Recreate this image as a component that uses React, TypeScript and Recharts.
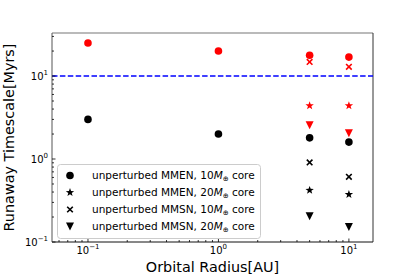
import React from "react";
import {
  ScatterChart,
  Scatter,
  XAxis,
  YAxis,
  ReferenceLine,
} from "recharts";

const radii = [0.1, 1, 5, 10];

// unperturbed (black)
const mmen10 = [3.0, 2.0, 1.8, 1.6];
const mmen20 = [null, null, 0.42, 0.375];
const mmsn10 = [null, null, 0.91, 0.61];
const mmsn20 = [null, null, 0.205, 0.152];

// perturbed (red)
const pMmen10 = [25, 20, 17.8, 16.9];
const pMmen20 = [null, null, 4.4, 4.4];
const pMmsn10 = [null, null, 14.8, 12.9];
const pMmsn20 = [null, null, 2.55, 2.05];

const xMajor = [0.1, 1, 10];
const xMinor = [0.06, 0.07, 0.08, 0.09, 0.2, 0.3, 0.4, 0.5, 0.6, 0.7, 0.8, 0.9, 2, 3, 4, 5, 6, 7, 8, 9];
const yMajor = [0.1, 1, 10];
const yMinor = [0.2, 0.3, 0.4, 0.5, 0.6, 0.7, 0.8, 0.9, 2, 3, 4, 5, 6, 7, 8, 9, 20, 30];
const expLabel: Record<number, string> = { 0.1: "\u22121", 1: "0", 10: "1" };

const X_DOMAIN: [number, number] = [0.053, 15.3];
const Y_DOMAIN: [number, number] = [0.1, 33];

const legendItems = [
  { shape: "circle", text: "unperturbed MMEN, 10" },
  { shape: "star", text: "unperturbed MMEN, 20" },
  { shape: "cross", text: "unperturbed MMSN, 10" },
  { shape: "tri", text: "unperturbed MMSN, 20" },
];

const toPoints = (vals: (number | null)[]) =>
  radii
    .map((r, i) => ({ x: r, y: vals[i] }))
    .filter((p) => p.y !== null);

function Marker({ kind, cx, cy, color }: { kind: string; cx: number; cy: number; color: string }) {
  if (kind === "circle") return <circle cx={cx} cy={cy} r={3.8} fill={color} />;
  if (kind === "cross") {
    const d = 2.8;
    return (
      <g stroke={color} strokeWidth={1.6}>
        <line x1={cx - d} y1={cy - d} x2={cx + d} y2={cy + d} />
        <line x1={cx - d} y1={cy + d} x2={cx + d} y2={cy - d} />
      </g>
    );
  }
  if (kind === "tri") {
    const s = 4;
    return <polygon points={`${cx - s},${cy - s} ${cx + s},${cy - s} ${cx},${cy + s}`} fill={color} />;
  }
  // star
  const pts: string[] = [];
  for (let i = 0; i < 10; i++) {
    const r = i % 2 === 0 ? 4.4 : 1.8;
    const a = -Math.PI / 2 + (i * Math.PI) / 5;
    pts.push(`${cx + r * Math.cos(a)},${cy + r * Math.sin(a)}`);
  }
  return <polygon points={pts.join(" ")} fill={color} />;
}

const shapeFor = (kind: string, color: string) => (props: any) =>
  <Marker kind={kind} cx={props.cx} cy={props.cy} color={color} />;

function Exp({ v }: { v: number }) {
  return (
    <>
      <tspan>10</tspan>
      <tspan dy={-4.5} fontSize={7}>{expLabel[v]}</tspan>
    </>
  );
}

function XTick(props: any) {
  const { x, y, payload } = props;
  const major = xMajor.includes(payload.value);
  return (
    <g>
      <line x1={x} x2={x} y1={y} y2={y - (major ? 3.5 : 2)} stroke="#000" strokeWidth={0.8} />
      {major && (
        <text x={x} y={y + 11.5} textAnchor="middle" fontSize={10} fill="#000">
          <Exp v={payload.value} />
        </text>
      )}
    </g>
  );
}

function YTick(props: any) {
  const { x, y, payload } = props;
  const major = yMajor.includes(payload.value);
  return (
    <g>
      <line x1={x} x2={x + (major ? 3.5 : 2)} y1={y} y2={y} stroke="#000" strokeWidth={0.8} />
      {major && (
        <text x={x - 4} y={y + 3.5} textAnchor="end" fontSize={10} fill="#000">
          <Exp v={payload.value} />
        </text>
      )}
    </g>
  );
}

function LegendBox() {
  return (
    <svg width={204} height={75} style={{ display: "block" }}>
      <rect x={0.5} y={0.5} width={203} height={74} rx={3} fill="#fff" fillOpacity={0.8} stroke="#ccc" />
      {legendItems.map((it, i) => {
        const cy = 11.5 + i * 17;
        return (
          <g key={i}>
            <Marker kind={it.shape} cx={13} cy={cy} color="#000" />
            <text x={35} y={cy + 3.8} fontSize={10.5} fill="#000">
              {it.text}
              <tspan fontStyle="italic">M</tspan>
              <tspan fontSize={7} dy={2}>{"\u2295"}</tspan>
              <tspan dy={-2}> core</tspan>
            </text>
          </g>
        );
      })}
    </svg>
  );
}

export default function App() {
  return (
    <div
      style={{
        position: "absolute",
        left: 0,
        top: 0,
        width: 415,
        height: 277,
        background: "#fff",
        fontFamily: "'DejaVu Sans', sans-serif",
      }}
    >
      <ScatterChart width={415} height={277} margin={{ top: 33, right: 42, bottom: 5, left: 12 }}>
        <XAxis
          type="number"
          dataKey="x"
          scale="log"
          domain={X_DOMAIN}
          allowDataOverflow
          ticks={[...xMinor, ...xMajor].sort((a, b) => a - b)}
          interval={0}
          tick={<XTick />}
          tickLine={false}
          tickSize={0}
          tickMargin={0}
          height={30}
          axisLine={{ stroke: "#111", strokeWidth: 1 }}
          label={{
            content: () => (
              <text x={212.5} y={271.5} textAnchor="middle" fontSize={14.4} fill="#000">
                Orbital Radius[AU]
              </text>
            ),
          }}
        />
        <YAxis
          type="number"
          dataKey="y"
          scale="log"
          domain={Y_DOMAIN}
          allowDataOverflow
          ticks={[...yMinor, ...yMajor].sort((a, b) => a - b)}
          interval={0}
          tick={<YTick />}
          tickLine={false}
          tickSize={0}
          tickMargin={0}
          width={40}
          axisLine={{ stroke: "#555", strokeWidth: 1 }}
          label={{
            content: () => (
              <text
                x={14}
                y={137.5}
                textAnchor="middle"
                fontSize={14.4}
                fill="#000"
                transform="rotate(-90 14 137.5)"
              >
                Runaway Timescale[Myrs]
              </text>
            ),
          }}
        />
        <ReferenceLine y={Y_DOMAIN[1]} stroke="#777" strokeWidth={1.2} />
        <ReferenceLine x={X_DOMAIN[1]} stroke="#333" strokeWidth={1} />
        <ReferenceLine y={10} stroke="#0000ff" strokeWidth={1.5} strokeDasharray="5.5 2.4" />

        <Scatter data={toPoints(mmen10)} shape={shapeFor("circle", "#000")} isAnimationActive={false} />
        <Scatter data={toPoints(mmen20)} shape={shapeFor("star", "#000")} isAnimationActive={false} />
        <Scatter data={toPoints(mmsn10)} shape={shapeFor("cross", "#000")} isAnimationActive={false} />
        <Scatter data={toPoints(mmsn20)} shape={shapeFor("tri", "#000")} isAnimationActive={false} />
        <Scatter data={toPoints(pMmen10)} shape={shapeFor("circle", "#ff0000")} isAnimationActive={false} />
        <Scatter data={toPoints(pMmen20)} shape={shapeFor("star", "#ff0000")} isAnimationActive={false} />
        <Scatter data={toPoints(pMmsn10)} shape={shapeFor("cross", "#ff0000")} isAnimationActive={false} />
        <Scatter data={toPoints(pMmsn20)} shape={shapeFor("tri", "#ff0000")} isAnimationActive={false} />
      </ScatterChart>
      <div style={{ position: "absolute", left: 57, top: 164 }}>
        <LegendBox />
      </div>
    </div>
  );
}
